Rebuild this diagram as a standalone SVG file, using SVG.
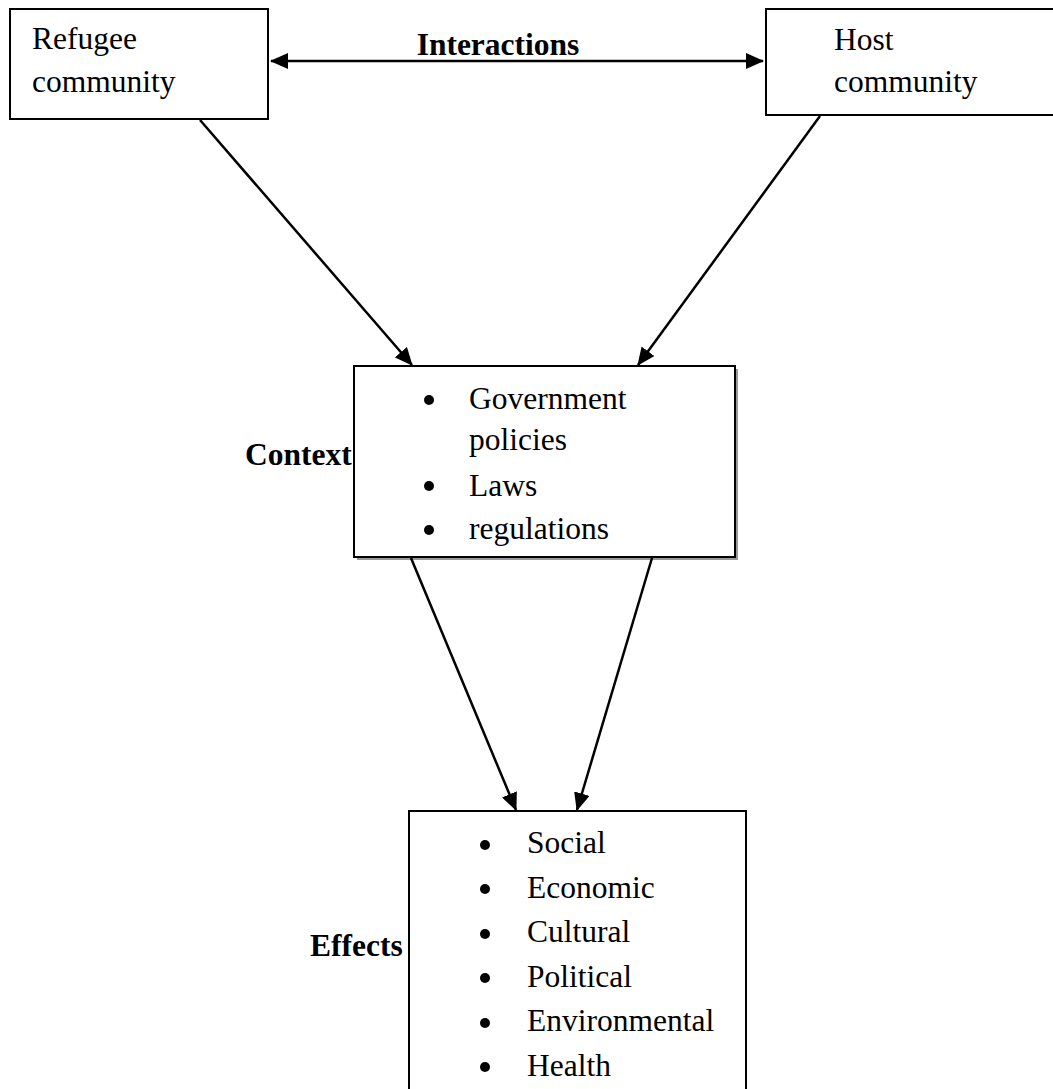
<svg xmlns="http://www.w3.org/2000/svg" width="1053" height="1089" viewBox="0 0 1053 1089">
<style>
.box{fill:#fff;stroke:#000;stroke-width:2}
.t{font-family:"Liberation Serif","Times New Roman",serif;font-size:31.5px;fill:#000}
.b{font-family:"Liberation Serif","Times New Roman",serif;font-size:31.5px;font-weight:bold;fill:#000}
.c{stroke:#000;stroke-width:2.5;fill:none}
</style>
<defs>
<marker id="ah" viewBox="0 0 18 16" refX="17" refY="8" markerWidth="18" markerHeight="16" markerUnits="userSpaceOnUse" orient="auto-start-reverse">
<path d="M0,0 L18,8 L0,16 z" fill="#000"/>
</marker>
</defs>
<rect width="1053" height="1089" fill="#fff"/>
<g id="refugee">
<rect class="box" x="10" y="9" width="258" height="110"/>
<text class="t" x="32" y="49">Refugee</text>
<text class="t" x="32" y="92">community</text>
</g>
<g id="host">
<rect class="box" x="766" y="9" width="300" height="106"/>
<text class="t" x="834" y="50">Host</text>
<text class="t" x="834" y="92">community</text>
</g>
<g id="context">
<rect x="357" y="369" width="381" height="191" fill="#999"/>
<rect class="box" x="354" y="366" width="381" height="191"/>
<text class="b" x="245" y="465">Context</text>
<circle cx="429" cy="400" r="5"/>
<text class="t" x="469" y="409">Government</text>
<text class="t" x="469" y="450">policies</text>
<circle cx="429" cy="486" r="5"/>
<text class="t" x="469" y="496">Laws</text>
<circle cx="429" cy="530" r="5"/>
<text class="t" x="469" y="539">regulations</text>
</g>
<g id="effects">
<rect class="box" x="409" y="811" width="337" height="300"/>
<text class="b" x="310" y="956">Effects</text>
<circle cx="485" cy="845" r="5"/>
<text class="t" x="527" y="853">Social</text>
<circle cx="485" cy="889" r="5"/>
<text class="t" x="527" y="898">Economic</text>
<circle cx="485" cy="934" r="5"/>
<text class="t" x="527" y="942">Cultural</text>
<circle cx="485" cy="978" r="5"/>
<text class="t" x="527" y="987">Political</text>
<circle cx="485" cy="1023" r="5"/>
<text class="t" x="527" y="1031">Environmental</text>
<circle cx="485" cy="1067" r="5"/>
<text class="t" x="527" y="1076">Health</text>
</g>
<g id="connectors">
<line class="c" x1="271" y1="61" x2="763" y2="61" marker-start="url(#ah)" marker-end="url(#ah)"/>
<text class="b" x="498" y="55" text-anchor="middle">Interactions</text>
<line class="c" x1="200" y1="120" x2="412" y2="365" marker-end="url(#ah)"/>
<line class="c" x1="820" y1="116" x2="638" y2="365" marker-end="url(#ah)"/>
<line class="c" x1="411" y1="558" x2="516" y2="810" marker-end="url(#ah)"/>
<line class="c" x1="652" y1="558" x2="577" y2="810" marker-end="url(#ah)"/>
</g>
</svg>
